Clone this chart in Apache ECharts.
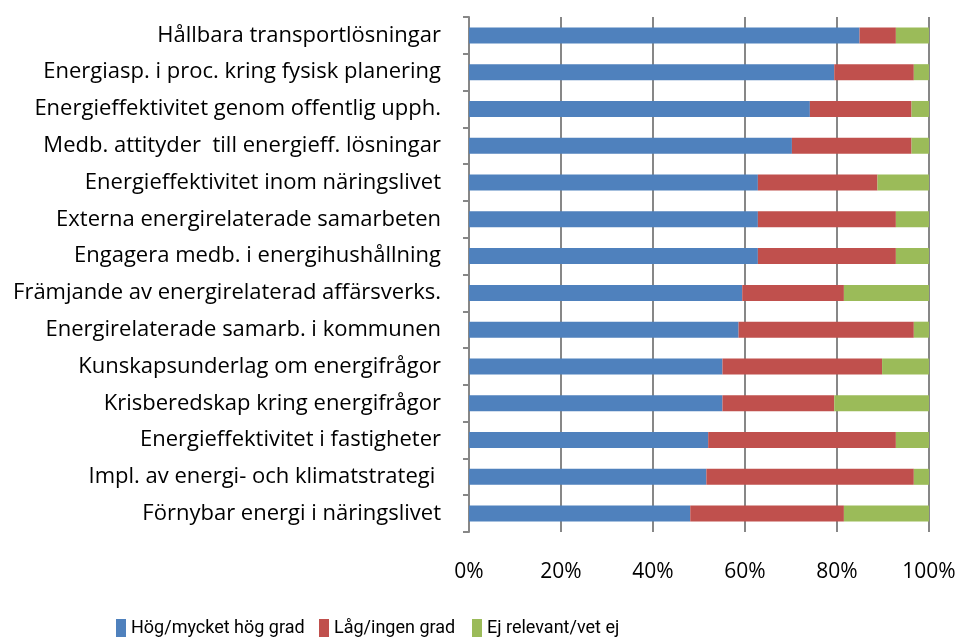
<!DOCTYPE html>
<html>
<head>
<meta charset="utf-8">
<script src="https://cdn.jsdelivr.net/npm/echarts@6/dist/echarts.min.js"></script>
<style>
  html, body { margin: 0; padding: 0; background: #fff; }
  #main { width: 962px; height: 637px; }
</style>
</head>
<body>
<div id="main"></div>
<script>
// kategorier, uppifrån och ned
var categories = [
    'Hållbara transportlösningar',
    'Energiasp. i proc. kring fysisk planering',
    'Energieffektivitet genom offentlig upph.',
    'Medb. attityder  till energieff. lösningar',
    'Energieffektivitet inom näringslivet',
    'Externa energirelaterade samarbeten',
    'Engagera medb. i energihushållning',
    'Främjande av energirelaterad affärsverks.',
    'Energirelaterade samarb. i kommunen',
    'Kunskapsunderlag om energifrågor',
    'Krisberedskap kring energifrågor',
    'Energieffektivitet i fastigheter',
    'Impl. av energi- och klimatstrategi ',
    'Förnybar energi i näringslivet'
];
var hog = [84.9, 79.4, 74.1, 70.2, 62.8, 62.8, 62.8, 59.4, 58.6, 55.1, 55.1, 52.0, 51.6, 48.1];
var lag = [7.9, 17.3, 22.1, 26.0, 26.0, 30.0, 30.0, 22.1, 38.1, 34.7, 24.3, 40.8, 45.1, 33.4];
var ejRel = [7.2, 3.3, 3.8, 3.8, 11.2, 7.2, 7.2, 18.5, 3.3, 10.2, 20.6, 7.2, 3.3, 18.5];
var seriesNames = ['Hög/mycket hög grad', 'Låg/ingen grad', 'Ej relevant/vet ej'];
var xTicks = [0, 20, 40, 60, 80, 100];

var font = '"Open Sans", "Liberation Sans", sans-serif';
var chart = echarts.init(document.getElementById('main'));

function bar(name, data, color) {
    return {
        name: name,
        type: 'bar',
        stack: 'tot',
        data: data,
        barWidth: 16,
        itemStyle: {color: color},
        emphasis: {disabled: true}
    };
}

// en legend per serie så att avstånden blir som i originalet
function leg(name, left) {
    return {
        top: 614,
        left: left,
        itemWidth: 10,
        itemHeight: 18,
        itemGap: 5,
        icon: 'rect',
        textStyle: {fontSize: 18, color: '#000', fontFamily: 'Roboto, sans-serif', padding: [0, 0, 0, 0]},
        data: [name]
    };
}

chart.setOption({
    animation: false,
    textStyle: {fontFamily: font},
    grid: {left: 469, right: 33, top: 17, bottom: 105, containLabel: false},
    legend: [leg(seriesNames[0], 111), leg(seriesNames[1], 314), leg(seriesNames[2], 467)],
    xAxis: {
        type: 'value',
        min: 0,
        max: 100,
        interval: 20,
        axisLine: {show: false},
        axisTick: {show: false},
        splitLine: {lineStyle: {color: '#878787', width: 2}},
        axisLabel: {
            fontSize: 21,
            color: '#000',
            margin: 30,
            formatter: function (v) { return xTicks.indexOf(v) >= 0 ? v + '%' : ''; }
        }
    },
    yAxis: {
        type: 'category',
        inverse: true,
        data: categories,
        axisLine: {lineStyle: {color: '#878787', width: 2}},
        axisTick: {show: true, length: 6, lineStyle: {color: '#878787', width: 2}},
        axisLabel: {fontSize: 22, color: '#000', margin: 28}
    },
    series: [
        bar(seriesNames[0], hog, '#4F81BD'),
        bar(seriesNames[1], lag, '#C0504D'),
        bar(seriesNames[2], ejRel, '#9BBB59')
    ]
});
</script>
</body>
</html>
